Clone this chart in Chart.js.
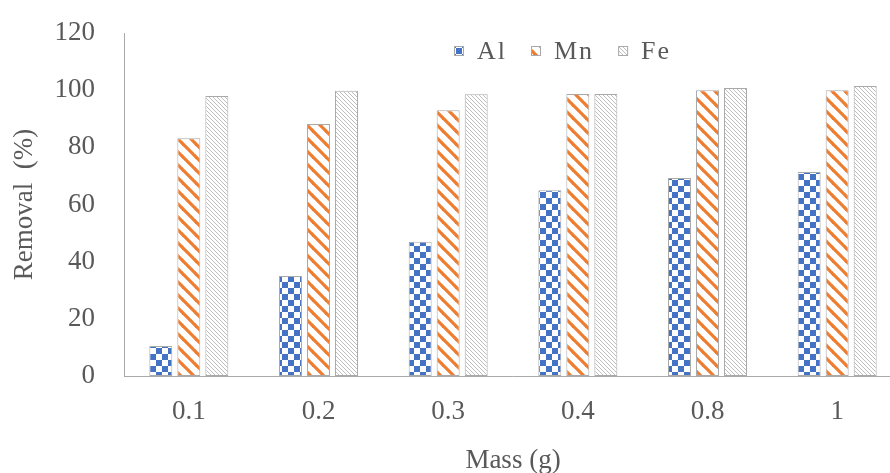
<!DOCTYPE html>
<html lang="en">
<head>
  <meta charset="UTF-8">
  <title>Removal vs Mass</title>
  <script src="https://cdn.jsdelivr.net/npm/chart.js"></script>
  <style>
    html, body {
      margin: 0;
      padding: 0;
      background: #ffffff;
      overflow: hidden;
    }
    #wrap {
      width: 902px;
      height: 473px;
    }
  </style>
</head>
<body>
  <div id="wrap">
    <canvas id="removalChart" width="902" height="473"></canvas>
  </div>

  <script>
    const massLabels = ['0.1', '0.2', '0.3', '0.4', '0.8', '1'];
    const alRemoval = [10.5, 35, 47, 65, 69.3, 71.4];
    const mnRemoval = [83.2, 88.2, 93, 98.7, 100, 100];
    const feRemoval = [98, 99.8, 98.6, 98.7, 100.8, 101.5];
    const yTicks = [0, 20, 40, 60, 80, 100, 120];

    const FONT = "'Liberation Serif', 'Times New Roman', serif";
    const TEXT = '#595959';
    const EDGE = '#A9A9A9';

    // fill patterns for the three series
    function makeTile(size, paint) {
      const c = document.createElement('canvas');
      c.width = size;
      c.height = size;
      const g = c.getContext('2d');
      g.fillStyle = '#ffffff';
      g.fillRect(0, 0, size, size);
      paint(g, size);
      return c.getContext('2d').createPattern(c, 'repeat');
    }

    const checker = makeTile(12, (g, s) => {
      g.fillStyle = '#4472C4';
      g.fillRect(0, 0, s / 2, s / 2);
      g.fillRect(s / 2, s / 2, s / 2, s / 2);
    });

    function diagonal(color, width) {
      return (g, s) => {
        g.strokeStyle = color;
        g.lineWidth = width;
        for (const c of [-s, 0, s]) {
          g.beginPath();
          g.moveTo(-1, c - 1);
          g.lineTo(s + 1, c + s + 1);
          g.stroke();
        }
      };
    }

    const orangeStripes = makeTile(13, diagonal('#ED7D31', 3.2));
    const greyHatch = makeTile(4, diagonal('#BDBDBD', 1));

    const legendPlugin = {
      id: 'patternLegend',
      afterDraw(chart) {
        const ctx = chart.ctx;
        const y = 51;
        let x = 454;
        ctx.save();
        ctx.font = '26px ' + FONT;
        ctx.textBaseline = 'middle';
        ctx.letterSpacing = '2px';
        chart.data.datasets.forEach(ds => {
          ctx.fillStyle = ds.backgroundColor;
          ctx.fillRect(x, y - 4, 9, 9);
          ctx.strokeStyle = EDGE;
          ctx.lineWidth = 1;
          ctx.strokeRect(x + 0.5, y - 4.5, 9, 9);
          ctx.fillStyle = TEXT;
          ctx.fillText(ds.label, x + 23, y + 1);
          x += 23 + ctx.measureText(ds.label).width + 24;
        });
        ctx.restore();
      }
    };

    const barStyle = {
      borderColor: EDGE,
      borderWidth: 1,
      borderSkipped: false,
      categoryPercentage: 0.648,
      barPercentage: 0.82
    };

    new Chart(document.getElementById('removalChart'), {
      type: 'bar',
      data: {
        labels: massLabels,
        datasets: [
          { label: 'Al', data: alRemoval, backgroundColor: checker, ...barStyle },
          { label: 'Mn', data: mnRemoval, backgroundColor: orangeStripes, ...barStyle },
          { label: 'Fe', data: feRemoval, backgroundColor: greyHatch, ...barStyle }
        ]
      },
      options: {
        responsive: false,
        animation: false,
        devicePixelRatio: 1,
        layout: {
          padding: { top: 33, right: 0, bottom: 0, left: 0 }
        },
        plugins: {
          legend: { display: false },
          tooltip: { enabled: false }
        },
        scales: {
          x: {
            grid: { display: false, drawTicks: false },
            border: { display: true, color: EDGE, width: 1 },
            ticks: {
              color: TEXT,
              padding: 20,
              font: { family: FONT, size: 27 }
            },
            title: {
              display: true,
              text: 'Mass (g)',
              color: TEXT,
              font: { family: FONT, size: 27, lineHeight: 0.9 },
              padding: { top: 0, bottom: 0 }
            },
            afterFit(scale) { scale.height = 97; }
          },
          y: {
            min: 0,
            max: 120,
            grid: { display: false, drawTicks: false },
            border: { display: true, color: EDGE, width: 1 },
            afterBuildTicks(scale) {
              scale.ticks = yTicks.map(v => ({ value: v }));
            },
            ticks: {
              color: TEXT,
              padding: 29,
              font: { family: FONT, size: 27 }
            },
            title: {
              display: true,
              text: 'Removal  (%)',
              color: TEXT,
              font: { family: FONT, size: 27, lineHeight: 1 },
              padding: { top: 11, bottom: 0 }
            },
            afterFit(scale) {
              scale.width = 124;
              // label gap is horizontal only; keep it out of the vertical margins
              scale.paddingTop = 16;
              scale.paddingBottom = 16;
            }
          }
        }
      },
      plugins: [legendPlugin]
    });
  </script>
</body>
</html>
